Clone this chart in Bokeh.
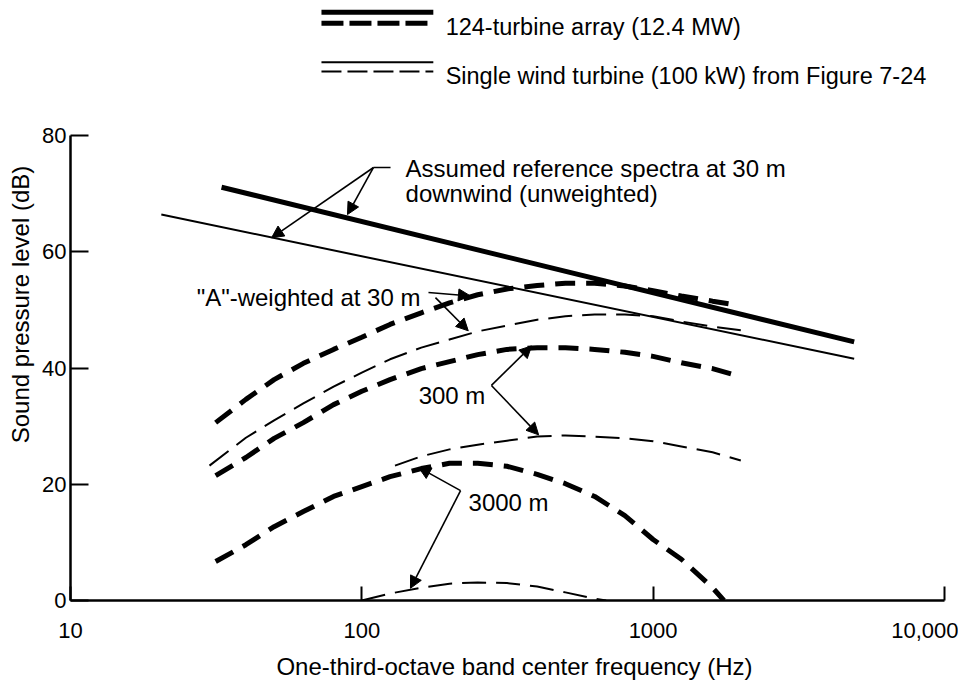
from bokeh.plotting import figure
from bokeh.models import Range1d, FixedTicker, Label, Arrow, NormalHead
from bokeh.embed import file_html
from bokeh.resources import INLINE

FONT = "Liberation Sans"

# ---- axes ----
x_ticks = [10, 100, 1000, 10000]
x_tick_labels = ["10", "100", "1000", "10,000"]
y_ticks = [0, 20, 40, 60, 80]

# ---- reference spectra at 30 m downwind (unweighted) ----
array_ref_freq = [33, 4900]
array_ref_db = [71.1, 44.5]
single_ref_freq = [20.5, 4900]
single_ref_db = [66.4, 41.6]

# ---- "A"-weighted at 30 m ----
a30_array_freq = [31.5, 40, 50, 63, 80, 100, 125, 160, 200, 250, 315, 400, 500, 630, 800, 1000, 1250, 1600, 1900]
a30_array_db = [30.6, 34.6, 38.0, 40.8, 43.2, 45.3, 47.5, 49.5, 51.2, 52.6, 53.6, 54.2, 54.6, 54.6, 54.1, 53.3, 52.4, 51.5, 50.9]
a30_single_freq = [30, 40, 50, 63, 80, 100, 125, 160, 200, 250, 315, 400, 500, 630, 800, 1000, 1250, 1600, 2000]
a30_single_db = [23.2, 28.0, 31.0, 33.9, 36.8, 39.2, 41.5, 43.5, 44.9, 46.3, 47.3, 48.3, 48.9, 49.2, 49.2, 48.9, 48.0, 47.1, 46.5]

# ---- 300 m ----
a300_array_freq = [31.5, 40, 50, 63, 80, 100, 125, 160, 200, 250, 315, 400, 500, 630, 800, 1000, 1250, 1600, 2000]
a300_array_db = [21.5, 24.6, 27.9, 30.6, 33.7, 36.0, 38.0, 39.9, 41.1, 42.3, 43.2, 43.5, 43.5, 43.2, 42.7, 42.0, 40.9, 39.9, 38.5]
a300_single_freq = [130, 160, 200, 250, 315, 400, 500, 630, 800, 1000, 1250, 1600, 2000]
a300_single_db = [23.2, 24.8, 26.0, 26.8, 27.5, 28.2, 28.4, 28.2, 27.9, 27.4, 26.5, 25.5, 24.1]

# ---- 3000 m ----
a3000_array_freq = [31.5, 40, 50, 63, 80, 100, 125, 160, 200, 250, 315, 400, 500, 630, 800, 1000, 1250, 1600, 1750]
a3000_array_db = [6.7, 9.6, 12.7, 15.3, 17.9, 19.6, 21.3, 22.7, 23.6, 23.6, 23.1, 21.7, 20.1, 17.9, 14.6, 10.5, 7.1, 2.2, 0.0]
a3000_single_freq = [100, 125, 160, 200, 250, 315, 400, 500, 630, 690]
a3000_single_db = [0.0, 1.2, 2.2, 2.9, 3.1, 3.0, 2.4, 1.4, 0.3, 0.0]

# ---- legend ----
legend_texts = ["124-turbine array (12.4 MW)", "Single wind turbine (100 kW) from Figure 7-24"]
legend_line_freq = [72.7, 176]
legend_text_freq = 194
legend_solid_db = [101.2, 92.6]
legend_dash_db = [99.3, 91.0]
legend_text_db = [98.6, 90.3]

# ---- annotations: (text, freq, dB) ----
notes = [
    ("Assumed reference spectra at 30 m", 141.3, 74.3),
    ("downwind (unweighted)", 141.3, 70.0),
    ('"A"-weighted at 30 m', 27.1, 52.1),
    ("300 m", 156.7, 35.3),
    ("3000 m", 232.5, 16.9),
]
# arrows: (start freq, start dB, end freq, end dB)
arrows = [
    (109.7, 74.5, 49.0, 62.4),
    (109.7, 74.5, 89.3, 66.4),
    (169.4, 53.0, 236.0, 52.4),
    (179.0, 52.1, 232.0, 46.4),
    (278.6, 37.0, 382.7, 43.8),
    (278.6, 37.0, 404.6, 28.5),
    (218.3, 18.9, 156.7, 22.9),
    (218.3, 18.9, 146.9, 2.1),
]
leader_freq = [109.7, 125.5]
leader_db = [74.5, 74.5]

p = figure(width=958, height=690, x_axis_type="log",
           x_range=Range1d(10, 11178), y_range=Range1d(0, 101.85),
           output_backend="svg", toolbar_location=None,
           min_border_left=70, min_border_right=0, min_border_top=8, min_border_bottom=90)
p.outline_line_color = None
p.grid.visible = False
p.background_fill_color = "white"

THICK, THIN = 5, 2
p.line(array_ref_freq, array_ref_db, line_width=THICK, line_color="black")
p.line(single_ref_freq, single_ref_db, line_width=THIN, line_color="black")
for fr, db in [(a30_array_freq, a30_array_db), (a300_array_freq, a300_array_db), (a3000_array_freq, a3000_array_db)]:
    p.line(fr, db, line_width=THICK, line_color="black", line_dash="20 11")
for fr, db in [(a30_single_freq, a30_single_db), (a300_single_freq, a300_single_db), (a3000_single_freq, a3000_single_db)]:
    p.line(fr, db, line_width=THIN, line_color="black", line_dash="24 10")

# legend samples
p.line(legend_line_freq, [legend_solid_db[0]] * 2, line_width=THICK, line_color="black")
p.line(legend_line_freq, [legend_dash_db[0]] * 2, line_width=THICK, line_color="black", line_dash="22 6")
p.line(legend_line_freq, [legend_solid_db[1]] * 2, line_width=THIN, line_color="black")
p.line(legend_line_freq, [legend_dash_db[1]] * 2, line_width=THIN, line_color="black", line_dash="20 6")
for t, d in zip(legend_texts, legend_text_db):
    p.add_layout(Label(x=legend_text_freq, y=d, text=t, text_font=FONT, text_font_size="23.5px",
                       text_baseline="alphabetic", text_align="left", text_color="black"))

for t, f, d in notes:
    p.add_layout(Label(x=f, y=d, text=t, text_font=FONT, text_font_size="24px",
                       text_baseline="alphabetic", text_align="left", text_color="black"))

for xs, ys, xe, ye in arrows:
    p.add_layout(Arrow(x_start=xs, y_start=ys, x_end=xe, y_end=ye, line_width=1.6, line_color="black",
                       end=NormalHead(size=12, fill_color="black", line_color="black", line_width=1)))
p.line(leader_freq, leader_db, line_width=1.6, line_color="black")

# axes
for ax in (p.xaxis[0], p.yaxis[0]):
    ax.axis_line_width = 2.5
    ax.axis_line_color = "black"
    ax.major_tick_line_width = 2
    ax.major_tick_line_color = "black"
    ax.minor_tick_line_color = None
    ax.major_tick_out = 0
    ax.major_label_text_font = FONT
    ax.major_label_text_font_size = "22px"
    ax.major_label_text_color = "black"
    ax.axis_label_text_font = FONT
    ax.axis_label_text_font_size = "24px"
    ax.axis_label_text_font_style = "normal"
    ax.axis_label_text_color = "black"

xa = p.xaxis[0]
xa.ticker = FixedTicker(ticks=x_ticks, minor_ticks=[])
xa.major_label_overrides = {t: l for t, l in zip(x_ticks, x_tick_labels)}
xa.bounds = (10, 10000)
xa.major_tick_in = 14
xa.major_label_standoff = 22
xa.axis_label = "One-third-octave band center frequency (Hz)"
xa.axis_label_standoff = 12

ya = p.yaxis[0]
ya.ticker = FixedTicker(ticks=y_ticks, minor_ticks=[])
ya.bounds = (0, 80)
ya.major_tick_in = 18
ya.major_label_standoff = 4
ya.axis_label = "Sound pressure level (dB)"
ya.axis_label_standoff = 5

open("out.html", "w").write(file_html(p, INLINE))
